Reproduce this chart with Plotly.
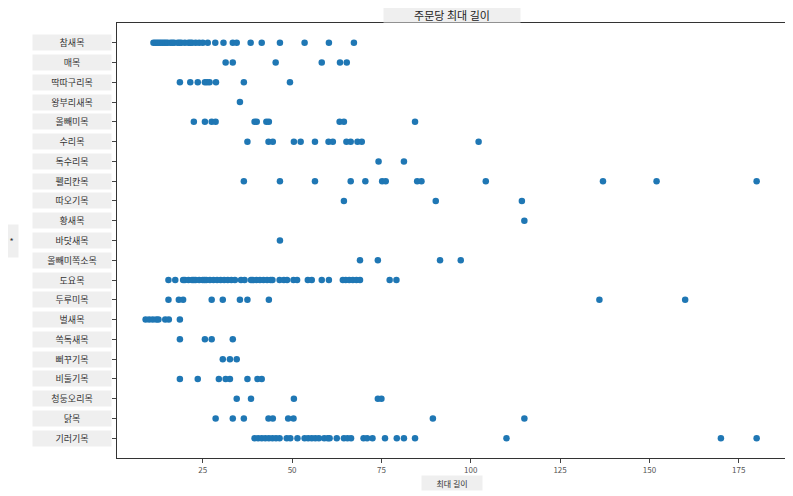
import plotly.graph_objects as go

# 목(order) 이름, 아래에서 위 순서
orders = ["기러기목", "닭목", "청둥오리목", "비둘기목", "뻐꾸기목", "쏙독새목", "벌새목",
          "두루미목", "도요목", "올빼미쪽소목", "바닷새목", "황새목", "따오기목", "펠리칸목",
          "독수리목", "수리목", "올빼미목", "왕부리새목", "딱따구리목", "매목", "참새목"]

# 목별 최대 길이 값
max_length = [
    [39.5, 40.5, 41.5, 42.5, 43.5, 44.5, 45.5, 46.5, 48.5, 49.5, 51.5, 53.5, 54.5, 55.5, 56.5,
     57.5, 59, 60, 60.5, 62.5, 64.5, 65.5, 66.5, 70, 71, 72.5, 76, 79.3, 81.3, 84.4, 110, 170, 180],
    [28.6, 33.4, 36.5, 43.4, 44.6, 48.9, 50.4, 89.4, 115],
    [34.5, 38.5, 50.5, 74, 75],
    [18.6, 23.6, 29.5, 31.4, 32.6, 37.5, 40.3, 41.5],
    [30.6, 32.6, 34.5],
    [18.6, 25.6, 27.5, 33.4],
    [9, 10, 11, 12, 12.6, 14.5, 15.5, 18.6],
    [15.4, 18.3, 19.5, 27.5, 30.6, 35.4, 37.5, 43.5, 136, 160],
    [15.4, 17.3, 19.5, 20, 21, 22, 22.5, 23, 24, 25, 25.5, 26, 27, 28, 29, 30, 31, 32, 33, 34,
     35.7, 36.7, 38.5, 39, 40, 41, 42, 43, 44, 44.5, 46.5, 47.7, 48.6, 50.4, 51.4, 54.4, 55.5,
     58.3, 60.3, 64.2, 65, 66, 67, 68, 69, 77.3, 79.2],
    [69, 74, 91.4, 97.2],
    [46.6],
    [115],
    [64.5, 90.2, 114.3],
    [36.5, 46.6, 56.4, 66.4, 70.5, 75.2, 76.2, 85, 86.2, 104.2, 137, 152, 180],
    [74.2, 81.3],
    [37.5, 43.4, 44.6, 50.5, 52.4, 56.4, 60.2, 61.4, 65.2, 66.4, 68.3, 69.5, 102.2],
    [22.5, 25.6, 27.5, 28.6, 39.5, 40.1, 42.8, 43.5, 63.3, 64.5, 84.4],
    [35.4],
    [18.6, 21.5, 23.6, 25.6, 26.2, 26.9, 28.7, 36.5, 49.4],
    [31.4, 33.4, 45.4, 58.3, 63.4, 65.3],
    [11.2, 11.7, 12.2, 12.7, 13.2, 13.7, 14.2, 14.7, 15.2, 16, 16.5, 17, 18, 18.5, 19, 20, 21,
     21.5, 22, 23, 24, 25, 26.4, 28.5, 30.8, 33.4, 34.5, 38.4, 41.5, 46.6, 53.5, 60.3, 67.3],
]

x_ticks = [25, 50, 75, 100, 125, 150, 175]

xs, ys = [], []
for order, vals in zip(orders, max_length):
    for v in vals:
        xs.append(v)
        ys.append(order)

fig = go.Figure()
fig.add_trace(go.Scatter(
    x=xs, y=ys, mode="markers",
    marker=dict(color="#1f77b4", size=6.5, line=dict(width=0)),
    showlegend=False,
))

box = "#efefef"
font = "Noto Sans CJK KR"

# y 눈금 이름 (회색 상자)
for order in orders:
    fig.add_annotation(
        x=0, xref="paper", y=order, yref="y",
        text=order, showarrow=False, xanchor="right", xshift=-5,
        bgcolor=box, width=76, height=13, align="center",
        font=dict(family=font, size=9, color="#333"),
    )

# 제목과 축 제목
fig.add_annotation(x=0.5, xref="paper", y=1, yref="paper", yshift=8, yanchor="middle",
                   text="주문당 최대 길이", showarrow=False, bgcolor=box,
                   width=134, height=12, font=dict(family=font, size=11, color="#222"))
fig.add_annotation(x=0.5, xref="paper", y=0, yref="paper", yshift=-25,
                   text="최대 길이", showarrow=False, bgcolor=box, yanchor="middle",
                   width=58, height=12, font=dict(family=font, size=8, color="#333"))
fig.add_annotation(x=0, xref="paper", y=0.5, yref="paper", xshift=-106,
                   text="*", showarrow=False, bgcolor=box, xanchor="center",
                   width=11, height=30, font=dict(family=font, size=9, color="#333"))

fig.update_layout(
    width=785, height=488,
    margin=dict(l=109, r=6, t=15, b=38),
    plot_bgcolor="white", paper_bgcolor="white",
    font=dict(family=font, size=9, color="#444"),
)

fig.update_xaxes(
    range=[1, 188.5], tickvals=x_ticks, ticks="outside", ticklen=4,
    showgrid=False, zeroline=False, showline=True, mirror=True,
    linecolor="#333", linewidth=1.2, tickfont=dict(size=8, color="#555"),
)
fig.update_yaxes(
    type="category", categoryorder="array", categoryarray=orders,
    range=[-1, len(orders)], showticklabels=False, ticks="outside", ticklen=4,
    showgrid=False, zeroline=False, showline=True, mirror=True,
    linecolor="#333", linewidth=1.2,
)

fig.write_html("out.html")
